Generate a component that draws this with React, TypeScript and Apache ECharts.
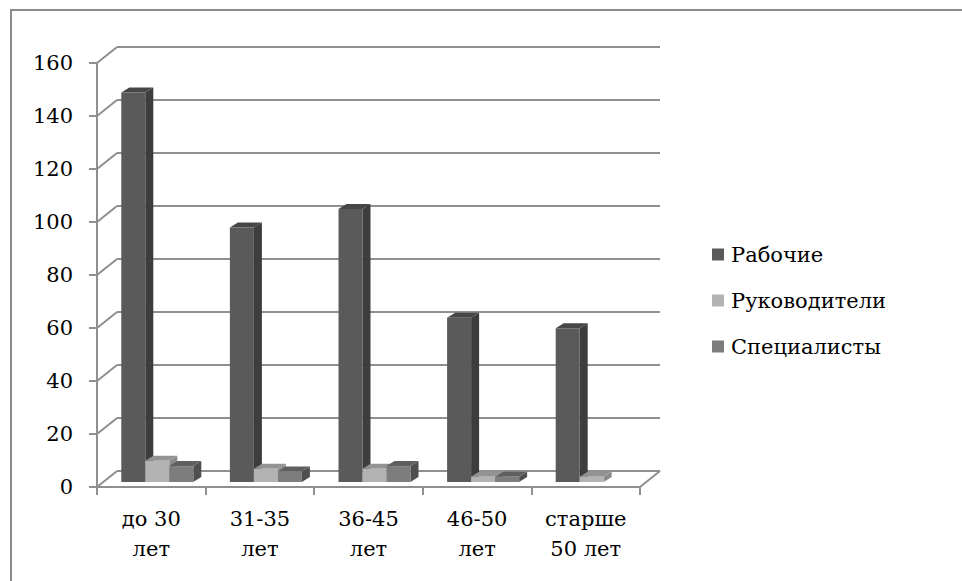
import React, { useEffect, useRef } from "react";
import * as echarts from "echarts";

const categories = ["до 30\nлет", "31-35\nлет", "36-45\nлет", "46-50\nлет", "старше\n50 лет"];
const seriesNames = ["Рабочие", "Руководители", "Специалисты"];
const workers = [147, 96, 103, 62, 58];
const managers = [8, 5, 5, 2, 2];
const specialists = [6, 4, 6, 2, 0];
const yTicks = [0, 20, 40, 60, 80, 100, 120, 140, 160];

const FONT = "DejaVu Serif";
const FONT_SIZE = 21;
const GRID_COLOR = "#8f8f8f";

const faceColors = [
  { front: "#5a5a5a", side: "#3d3d3d", top: "#464646" },
  { front: "#b3b3b3", side: "#8a8a8a", top: "#939393" },
  { front: "#7d7d7d", side: "#4f4f4f", top: "#5f5f5f" },
];

export default function App() {
  const ref = useRef<HTMLDivElement>(null);

  useEffect(() => {
    if (!ref.current) return;
    const chart = echarts.init(ref.current, undefined, { renderer: "svg" });
    const DX = 20;
    const DY = -16;
    const BAR_W = 24;
    const SIDE_X = 8;
    const SIDE_Y = -5;

    const barSeries = [workers, managers, specialists].map((vals, si) => ({
      type: "custom",
      name: seriesNames[si],
      xAxisIndex: 2,
      yAxisIndex: 2,
      itemStyle: { color: faceColors[si].front },
      data: vals.map((v, i) => [i, v]),
      z: 5 + si,
      renderItem: (params: any, api: any) => {
        const cat = api.value(0);
        const val = api.value(1);
        if (!(val > 0)) return { type: "group", children: [] };
        const top = api.coord([cat, val]);
        const base = api.coord([cat, 0]);
        const x0 = top[0] - (BAR_W * 3) / 2 + si * BAR_W;
        const c = faceColors[si];
        return {
          type: "group",
          children: [
            {
              type: "polygon",
              shape: {
                points: [
                  [x0 + BAR_W, top[1]],
                  [x0 + BAR_W + SIDE_X, top[1] + SIDE_Y],
                  [x0 + BAR_W + SIDE_X, base[1] + SIDE_Y],
                  [x0 + BAR_W, base[1]],
                ],
              },
              style: { fill: c.side },
            },
            {
              type: "polygon",
              shape: {
                points: [
                  [x0, top[1]],
                  [x0 + SIDE_X, top[1] + SIDE_Y],
                  [x0 + BAR_W + SIDE_X, top[1] + SIDE_Y],
                  [x0 + BAR_W, top[1]],
                ],
              },
              style: { fill: c.top },
            },
            {
              type: "rect",
              shape: { x: x0, y: top[1], width: BAR_W, height: base[1] - top[1] },
              style: { fill: c.front },
            },
          ],
        };
      },
    }));

    const wallSeries = {
      type: "custom",
      name: "walls",
      xAxisIndex: 0,
      yAxisIndex: 0,
      silent: true,
      z: 1,
      data: yTicks.map((v) => [0, v]),
      renderItem: (params: any, api: any) => {
        const v = api.value(1);
        const p = api.coord([0, v]);
        const half = api.size([1, 0])[0] / 2;
        const x = p[0] - half;
        const children: any[] = [
          {
            type: "line",
            shape: { x1: x, y1: p[1], x2: x + DX, y2: p[1] + DY },
            style: { stroke: GRID_COLOR, lineWidth: 2 },
          },
        ];
        if (v === 0) {
          const q = api.coord([categories.length - 1, 0]);
          const xr = q[0] + half;
          children.push({
            type: "line",
            shape: { x1: xr, y1: q[1], x2: xr + DX, y2: q[1] + DY },
            style: { stroke: GRID_COLOR, lineWidth: 2 },
          });
        }
        return { type: "group", children };
      },
    };

    const option: any = {
      animation: false,
      backgroundColor: "#ffffff",
      textStyle: { fontFamily: FONT },
      graphic: [
        {
          type: "rect",
          shape: { x: 11, y: 10, width: 1000, height: 700 },
          style: { fill: "none", stroke: "#8c8c8c", lineWidth: 2 },
          silent: true,
          z: -10,
        },
      ],
      legend: {
        orient: "vertical",
        left: 712,
        top: 242,
        padding: 0,
        icon: "rect",
        itemWidth: 12,
        itemHeight: 12,
        itemGap: 21,
        data: seriesNames,
        textStyle: { fontFamily: FONT, fontSize: FONT_SIZE, color: "#000", lineHeight: 25, padding: [0, 0, 0, 2] },
      },
      grid: [
        { left: 97, top: 63, width: 543, height: 424 },
        { left: 97 + 20, top: 63 - 16, width: 543, height: 424 },
        { left: 97 + 6, top: 63 - 5, width: 543, height: 424 },
      ],
      xAxis: [
        {
          type: "category",
          gridIndex: 0,
          data: categories,
          boundaryGap: true,
          axisLine: { show: true, lineStyle: { color: GRID_COLOR, width: 2 } },
          axisTick: { show: true, length: 8, interval: 0, lineStyle: { color: GRID_COLOR, width: 2 } },
          axisLabel: {
            interval: 0,
            margin: 17,
            color: "#000",
            fontFamily: FONT,
            fontSize: FONT_SIZE,
            lineHeight: 30,
          },
          splitLine: { show: false },
        },
        { type: "category", gridIndex: 1, data: categories, show: false },
        { type: "category", gridIndex: 2, data: categories, show: false },
      ],
      yAxis: [
        {
          type: "value",
          gridIndex: 0,
          min: 0,
          max: 160,
          interval: 20,
          axisLine: { show: true, lineStyle: { color: GRID_COLOR, width: 2 } },
          axisTick: { show: true, length: 8, lineStyle: { color: GRID_COLOR, width: 2 } },
          axisLabel: { margin: 24, color: "#000", fontFamily: FONT, fontSize: FONT_SIZE },
          splitLine: { show: false },
        },
        {
          type: "value",
          gridIndex: 1,
          min: 0,
          max: 160,
          interval: 20,
          axisLine: { show: false },
          axisTick: { show: false },
          axisLabel: { show: false },
          splitLine: { show: true, lineStyle: { color: GRID_COLOR, width: 2 } },
        },
        { type: "value", gridIndex: 2, min: 0, max: 160, interval: 20, show: false, splitLine: { show: false } },
      ],
      series: [wallSeries, ...barSeries],
    };
    chart.setOption(option);
    return () => chart.dispose();
  }, []);

  return (
    <div
      ref={ref}
      style={{ position: "fixed", left: 0, top: 0, width: 962, height: 581, background: "#fff" }}
    />
  );
}
